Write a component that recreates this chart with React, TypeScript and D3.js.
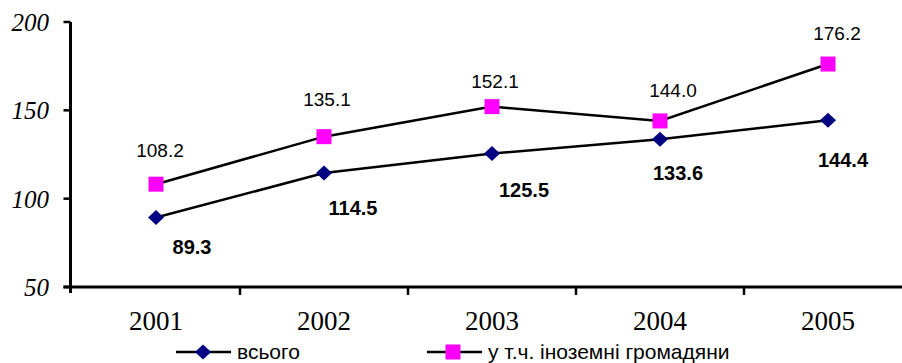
import React from 'react';
import * as d3 from 'd3';

const years = ['2001', '2002', '2003', '2004', '2005'];
const totalValues = [89.3, 114.5, 125.5, 133.6, 144.4];
const foreignValues = [108.2, 135.1, 152.1, 144.0, 176.2];
const yTicks = [50, 100, 150, 200];
const seriesNames = ['всього', 'у т.ч. іноземні громадяни'];

// label nudges (Excel auto-placement), relative to each point
const topNudge = [[4, -27], [3, -31], [3, -19], [13, -24], [9, -24]];
const bottomNudge = [[36, 36], [29, 42], [32, 43], [18, 41], [15, 47]];

const W = 902;
const H = 363;

export default function App() {
  const x = d3.scaleBand<string>().domain(years).range([72, 912]);
  const cx = (yr: string) => (x(yr) as number) + x.bandwidth() / 2;
  const y = d3.scaleLinear().domain([50, 200]).range([287, 22]);
  const line = d3
    .line<number>()
    .x((_, i) => cx(years[i]))
    .y((d) => y(d));

  const diamond = (px: number, py: number) =>
    `M${px},${py - 7.5}L${px + 8},${py}L${px},${py + 7.5}L${px - 8},${py}Z`;

  const x0 = 70.5;
  const yBase = y(50);
  const boundaries = years.map((yr) => x(yr) as number).concat([912]);

  return (
    <svg
      width={W}
      height={H}
      style={{ position: 'absolute', left: 0, top: 0, background: '#fff' }}
    >
      {/* y axis */}
      <line x1={x0} x2={x0} y1={y(200)} y2={yBase + 6} stroke="#000" strokeWidth={3} />
      {yTicks.map((t) => (
        <g key={t}>
          <line x1={x0 - 7} x2={x0} y1={y(t)} y2={y(t)} stroke="#000" strokeWidth={2.5} />
          <text
            x={49}
            y={y(t) + 9}
            textAnchor="end"
            fontFamily="'Liberation Serif', 'Times New Roman', serif"
            fontStyle="italic"
            fontSize={25}
            fill="#000"
          >
            {t}
          </text>
        </g>
      ))}
      {/* x axis */}
      <line x1={x0 - 7} x2={W} y1={yBase} y2={yBase} stroke="#000" strokeWidth={3} />
      {boundaries.slice(1).map((b, i) => (
        <line key={i} x1={b} x2={b} y1={yBase} y2={yBase + 8} stroke="#000" strokeWidth={2.5} />
      ))}
      {years.map((yr) => (
        <text
          key={yr}
          x={cx(yr)}
          y={330}
          textAnchor="middle"
          fontFamily="'Liberation Serif', 'Times New Roman', serif"
          fontSize={27}
          fill="#000"
        >
          {yr}
        </text>
      ))}

      {/* lines */}
      <path d={line(foreignValues) || ''} fill="none" stroke="#000" strokeWidth={2.5} />
      <path d={line(totalValues) || ''} fill="none" stroke="#000" strokeWidth={2.5} />

      {/* markers */}
      {foreignValues.map((v, i) => (
        <rect
          key={'f' + i}
          x={cx(years[i]) - 7.5}
          y={y(v) - 7.5}
          width={15}
          height={15}
          fill="#FF00FF"
        />
      ))}
      {totalValues.map((v, i) => (
        <path key={'t' + i} d={diamond(cx(years[i]), y(v))} fill="#000080" />
      ))}

      {/* data labels */}
      {foreignValues.map((v, i) => (
        <text
          key={'fl' + i}
          x={cx(years[i]) + topNudge[i][0]}
          y={y(v) + topNudge[i][1]}
          textAnchor="middle"
          fontFamily="'Liberation Sans', Arial, sans-serif"
          fontSize={19}
          fill="#000"
        >
          {v.toFixed(1)}
        </text>
      ))}
      {totalValues.map((v, i) => (
        <text
          key={'tl' + i}
          x={cx(years[i]) + bottomNudge[i][0]}
          y={y(v) + bottomNudge[i][1]}
          textAnchor="middle"
          fontFamily="'Liberation Sans', Arial, sans-serif"
          fontWeight="bold"
          fontSize={20}
          fill="#000"
        >
          {v.toFixed(1)}
        </text>
      ))}

      {/* legend */}
      <g>
        <line x1={176} x2={231} y1={352} y2={352} stroke="#000" strokeWidth={2.5} />
        <path d={diamond(203, 352)} fill="#000080" />
        <text
          x={237}
          y={359}
          fontFamily="'Liberation Sans', Arial, sans-serif"
          fontSize={21}
          fill="#000"
        >
          {seriesNames[0]}
        </text>
        <line x1={427} x2={482} y1={352} y2={352} stroke="#000" strokeWidth={2.5} />
        <rect x={453 - 7.5} y={352 - 7.5} width={15} height={15} fill="#FF00FF" />
        <text
          x={488}
          y={359}
          fontFamily="'Liberation Sans', Arial, sans-serif"
          fontSize={21}
          fill="#000"
        >
          {seriesNames[1]}
        </text>
      </g>
    </svg>
  );
}
